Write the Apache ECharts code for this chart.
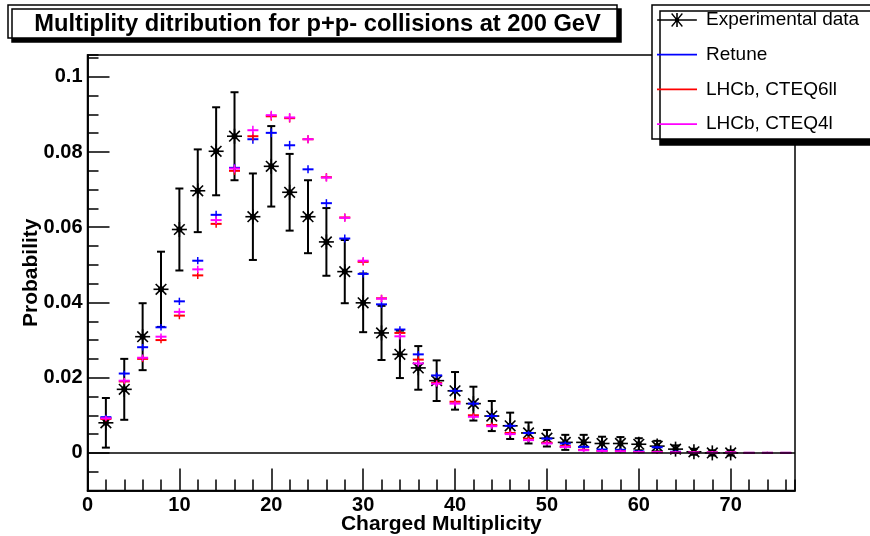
<!DOCTYPE html>
<html>
<head>
<meta charset="utf-8">
<script src="https://cdn.jsdelivr.net/npm/echarts@6/dist/echarts.min.js"></script>
<style>html,body{margin:0;padding:0;background:#fff}#c{width:870px;height:536px}</style>
</head>
<body>
<div id="c"></div>
<script>
// ---- data ----
const titleText = 'Multiplity ditribution for p+p- collisions at 200 GeV';
const xName = 'Charged Multiplicity';
const yName = 'Probability';
const seriesNames = ['Experimental data', 'Retune', 'LHCb, CTEQ6ll', 'LHCb, CTEQ4l'];

const expX = [2,4,6,8,10,12,14,16,18,20,22,24,26,28,30,32,34,36,38,40,42,44,46,48,50,52,54,56,58,60,62,64,66,68,70];
const expY = [0.0080,0.0169,0.0309,0.0435,0.0594,0.0697,0.0802,0.0842,0.0628,0.0762,0.0693,0.0628,0.0561,0.0482,0.0399,0.0319,0.0262,0.0226,0.0192,0.0165,0.0131,0.0098,0.0072,0.0053,0.0039,0.0028,0.0028,0.0025,0.0025,0.0023,0.0018,0.0010,0.0003,0.0000,0.0000];
const expErr = [0.0066,0.0081,0.0089,0.0100,0.0109,0.0110,0.0117,0.0117,0.0115,0.0107,0.0102,0.0097,0.0090,0.0084,0.0078,0.0072,0.0063,0.0058,0.0054,0.0050,0.0045,0.0040,0.0035,0.0028,0.0022,0.0020,0.0020,0.0018,0.0017,0.0016,0.0014,0.0010,0.0008,0.0007,0.0007];

const modelX = [2,4,6,8,10,12,14,16,18,20,22,24,26,28,30,32,34,36,38,40,42,44,46,48,50,52,54,56,58,60,62,64,66,68,70,72,74,76];
const retune = [0.0095,0.0211,0.0281,0.0334,0.0403,0.0511,0.0633,0.0758,0.0834,0.0851,0.0818,0.0754,0.0664,0.0570,0.0476,0.0395,0.0328,0.0262,0.0206,0.0165,0.0131,0.0098,0.0072,0.0053,0.0038,0.0025,0.0016,0.0009,0.0008,0.0004,0.0015,0.0003,0.0001,0.0001,0.0001,0,0,0];
const cteq6ll = [0.0090,0.0190,0.0250,0.0300,0.0365,0.0472,0.0609,0.0750,0.0842,0.0895,0.0890,0.0834,0.0733,0.0626,0.0508,0.0411,0.0319,0.0248,0.0186,0.0136,0.0100,0.0074,0.0053,0.0038,0.0027,0.0018,0.0008,0.0005,0.0004,0.0002,0.0002,0.0001,0.0001,0.0001,0.0001,0,0,0];
const cteq4l = [0.0092,0.0192,0.0253,0.0309,0.0375,0.0488,0.0619,0.0756,0.0858,0.0898,0.0892,0.0834,0.0732,0.0625,0.0511,0.0410,0.0310,0.0238,0.0184,0.0131,0.0096,0.0071,0.0050,0.0034,0.0025,0.0016,0.0007,0.0005,0.0004,0.0002,0.0002,0.0001,0.0001,0.0001,0.0001,0,0,0];
const modelErr = [0.0004,0.0005,0.0006,0.0006,0.0007,0.0007,0.0008,0.0008,0.0009,0.0009,0.0009,0.0008,0.0008,0.0008,0.0007,0.0007,0.0006,0.0006,0.0005,0.0005,0.0004,0.0004,0.0004,0.0003,0.0003,0.0003,0.0002,0.0002,0.0002,0.0001,0.0001,0.0001,0.0001,0.0001,0.0001,0,0,0];

const X_MIN = 0, X_MAX = 77, Y_MIN = -0.01, Y_MAX = 0.1058;

// ---- chart ----
const FONT = 'Liberation Sans';
const chart = echarts.init(document.getElementById('c'), null, {renderer: 'canvas'});

function expItem(params, api) {
  const x = api.value(0), y = api.value(1), e = api.value(2);
  const c = api.coord([x, y]);
  const t = api.coord([x, y + e]);
  const b = api.coord([x, y - e]);
  const st = {stroke: '#000', lineWidth: 2};
  const r = 7.5, d = 5.3, cap = 4;
  return {type: 'group', children: [
    {type: 'line', shape: {x1: c[0], y1: t[1], x2: c[0], y2: b[1]}, style: st},
    {type: 'line', shape: {x1: c[0] - cap, y1: t[1], x2: c[0] + cap, y2: t[1]}, style: st},
    {type: 'line', shape: {x1: c[0] - cap, y1: b[1], x2: c[0] + cap, y2: b[1]}, style: st},
    {type: 'line', shape: {x1: c[0] - r, y1: c[1], x2: c[0] + r, y2: c[1]}, style: {stroke: '#000', lineWidth: 1.6}},
    {type: 'line', shape: {x1: c[0], y1: c[1] - r, x2: c[0], y2: c[1] + r}, style: {stroke: '#000', lineWidth: 1.6}},
    {type: 'line', shape: {x1: c[0] - d, y1: c[1] - d, x2: c[0] + d, y2: c[1] + d}, style: {stroke: '#000', lineWidth: 1.6}},
    {type: 'line', shape: {x1: c[0] - d, y1: c[1] + d, x2: c[0] + d, y2: c[1] - d}, style: {stroke: '#000', lineWidth: 1.6}},
    {type: 'circle', shape: {cx: c[0], cy: c[1], r: 3}, style: {fill: '#000'}}
  ]};
}

function modelRender(color) {
  return function (params, api) {
    const x = api.value(0), y = api.value(1), e = api.value(2);
    const c = api.coord([x, y]);
    const t = api.coord([x, y + e]);
    const b = api.coord([x, y - e]);
    return {type: 'group', children: [
      {type: 'line', shape: {x1: c[0], y1: t[1] - 1, x2: c[0], y2: b[1] + 1}, style: {stroke: color, lineWidth: 1.5}},
      {type: 'line', shape: {x1: c[0] - 5.5, y1: c[1], x2: c[0] + 5.5, y2: c[1]}, style: {stroke: color, lineWidth: 2}}
    ]};
  };
}

const expData = expX.map((x, i) => [x, expY[i], expErr[i]]);
const mk = arr => modelX.map((x, i) => [x, arr[i], modelErr[i]]);

const tiny = 'M0,0 L0.01,0 L0,0.01 Z M40,14 L39.99,14 L40,13.99 Z ';
const lineIcon = 'path://' + tiny + 'M0,6.1 L40,6.1 L40,7.9 L0,7.9 Z';
const starIcon = 'path://' + tiny + 'M0,6.2 L40,6.2 L40,7.8 L0,7.8 Z M19.2,0 L20.8,0 L20.8,14 L19.2,14 Z ' +
  'M14.1,0.9 L15.1,-0.1 L25.9,12.9 L24.9,13.9 Z M24.9,-0.1 L25.9,0.9 L15.1,13.9 L14.1,12.9 Z M18,5 L22,5 L22,9 L18,9 Z';

const axisFont = {color: '#000', fontFamily: FONT, fontWeight: 'bold', fontSize: 20};
const nameFont = {color: '#000', fontFamily: FONT, fontWeight: 'bold', fontSize: 21};

chart.setOption({
  animation: false,
  backgroundColor: '#fff',
  title: {
    text: titleText,
    left: 312.5, top: 7, textAlign: 'center',
    textStyle: {fontFamily: FONT, fontWeight: 'bold', fontSize: 23.7, color: '#000'}
  },
  graphic: [{
    type: 'rect', z: 0,
    shape: {x: 8, y: 5, width: 609, height: 33},
    style: {fill: '#fff', stroke: '#000', lineWidth: 1.5, shadowColor: '#000', shadowOffsetX: 4, shadowOffsetY: 4, shadowBlur: 0}
  }],
  legend: {
    orient: 'vertical', left: 652, top: 5,
    padding: [5, 40, 5, 5],
    itemWidth: 40, itemHeight: 14, itemGap: 14.7,
    backgroundColor: '#fff', borderColor: '#000', borderWidth: 1.5,
    shadowColor: '#000', shadowOffsetX: 8, shadowOffsetY: 6, shadowBlur: 0,
    textStyle: {fontFamily: FONT, fontSize: 19, color: '#000', lineHeight: 20, padding: [0, 0, 0, 4]},
    data: [
      {name: seriesNames[0], icon: starIcon, itemStyle: {color: '#000'}},
      {name: seriesNames[1], icon: lineIcon, itemStyle: {color: '#0000ff'}},
      {name: seriesNames[2], icon: lineIcon, itemStyle: {color: '#ff0000'}},
      {name: seriesNames[3], icon: lineIcon, itemStyle: {color: '#ff00ff'}}
    ]
  },
  grid: {left: 87.5, right: 75, top: 55, bottom: 45.5, show: true, borderColor: '#000', borderWidth: 1.5,
         backgroundColor: 'transparent', containLabel: false, outerBoundsMode: 'none'},
  xAxis: [{
    type: 'value', position: 'bottom', min: X_MIN, max: X_MAX, interval: 2,
    axisLine: {onZero: false, lineStyle: {color: '#000', width: 1.5}},
    axisTick: {inside: true, length: 11, lineStyle: {color: '#000', width: 1.5}},
    axisLabel: {show: false}, splitLine: {show: false}
  }, {
    type: 'value', position: 'bottom', min: X_MIN, max: X_MAX, interval: 10,
    name: xName, nameLocation: 'middle', nameGap: 23, nameMoveOverlap: false,
    nameTextStyle: nameFont,
    axisLine: {onZero: false, lineStyle: {color: '#000', width: 1.5}},
    axisTick: {inside: true, length: 22, lineStyle: {color: '#000', width: 1.5}},
    axisLabel: Object.assign({margin: 5, showMaxLabel: false}, axisFont),
    splitLine: {show: false}
  }],
  yAxis: [{
    type: 'value', position: 'left', min: Y_MIN, max: Y_MAX, interval: 0.005,
    axisLine: {onZero: false, lineStyle: {color: '#000', width: 1.5}},
    axisTick: {inside: true, length: 11, lineStyle: {color: '#000', width: 1.5}},
    axisLabel: {show: false}, splitLine: {show: false}
  }, {
    type: 'value', position: 'left', min: Y_MIN, max: Y_MAX, splitNumber: 5,
    name: yName, nameLocation: 'middle', nameGap: 46, nameRotate: 90, nameMoveOverlap: false,
    nameTextStyle: nameFont,
    axisLine: {onZero: false, lineStyle: {color: '#000', width: 1.5}},
    axisTick: {inside: true, length: 22, lineStyle: {color: '#000', width: 1.5}},
    axisLabel: Object.assign({margin: 5, showMinLabel: false, showMaxLabel: false}, axisFont),
    splitLine: {show: false}
  }],
  series: [{
    name: seriesNames[0], type: 'custom', xAxisIndex: 0, yAxisIndex: 0,
    itemStyle: {color: '#000'},
    renderItem: expItem, data: expData, encode: {x: 0, y: [1]},
    markLine: {silent: true, symbol: 'none', label: {show: false}, lineStyle: {color: '#000', width: 1.5, type: 'solid'}, data: [{yAxis: 0}]}
  }, {
    name: seriesNames[1], type: 'custom', xAxisIndex: 0, yAxisIndex: 0,
    itemStyle: {color: '#0000ff'}, renderItem: modelRender('#0000ff'), data: mk(retune), encode: {x: 0, y: [1]}
  }, {
    name: seriesNames[2], type: 'custom', xAxisIndex: 0, yAxisIndex: 0,
    itemStyle: {color: '#ff0000'}, renderItem: modelRender('#ff0000'), data: mk(cteq6ll), encode: {x: 0, y: [1]}
  }, {
    name: seriesNames[3], type: 'custom', xAxisIndex: 0, yAxisIndex: 0,
    itemStyle: {color: '#ff00ff'}, renderItem: modelRender('#ff00ff'), data: mk(cteq4l), encode: {x: 0, y: [1]}
  }]
});
</script>
</body>
</html>
